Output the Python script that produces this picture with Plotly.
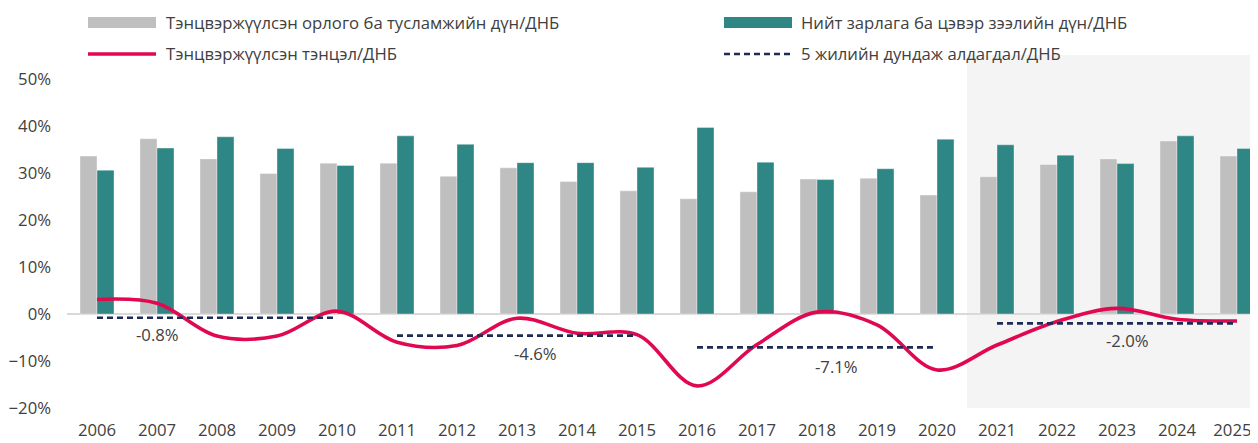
import plotly.graph_objects as go

years = ["2006", "2007", "2008", "2009", "2010", "2011", "2012", "2013", "2014", "2015",
         "2016", "2017", "2018", "2019", "2020", "2021", "2022", "2023", "2024", "2025*"]
revenue = [33.6, 37.3, 33.0, 29.9, 32.1, 32.1, 29.3, 31.1, 28.2, 26.2,
           24.5, 26.0, 28.7, 28.9, 25.3, 29.2, 31.8, 33.0, 36.8, 33.6]
expenditure = [30.6, 35.3, 37.7, 35.2, 31.6, 37.9, 36.1, 32.2, 32.2, 31.2,
               39.7, 32.3, 28.6, 30.9, 37.2, 36.0, 33.8, 32.0, 37.9, 35.2]
balance = [3.1, 2.3, -4.7, -4.7, 0.6, -6.0, -6.7, -0.9, -4.1, -4.4,
           -15.3, -6.5, 0.4, -2.3, -11.9, -6.6, -1.6, 1.2, -1.1, -1.5]
avg_x = ["2006", "2010", None, "2011", "2015", None, "2016", "2020", None, "2021", "2025*"]
avg_y = [-0.8, -0.8, None, -4.6, -4.6, None, -7.1, -7.1, None, -2.0, -2.0]
avg_labels = ["-0.8%", "-4.6%", "-7.1%", "-2.0%"]
avg_label_x = [1.0, 7.3, 12.33, 17.18]
avg_label_y = [-4.3, -8.3, -11.1, -5.7]

legend_names = ["Тэнцвэржүүлсэн орлого ба тусламжийн дүн/ДНБ",
                "Нийт зарлага ба цэвэр зээлийн дүн/ДНБ",
                "Тэнцвэржүүлсэн тэнцэл/ДНБ",
                "5 жилийн дундаж алдагдал/ДНБ"]

GRAY = "#bfbfbf"
TEAL = "#2e8784"
RED = "#e0094f"
NAVY = "#1f2b57"
TXT = "#404040"
FONT = "Open Sans"
FS = 16.7

# page has an 8px body margin: figure is placed at (8, 8) in the window
OFF = 8
W, H = 1258 - OFF, 443 - OFF
L, R, T, B = 67 - OFF, 0, 79 - OFF, 35
pw, ph = W - L - R, H - T - B


def px(xp):
    return (xp - OFF - L) / pw


def py(yp):
    return (H - B - (yp - OFF)) / ph


fig = go.Figure()
fig.add_trace(go.Bar(x=years, y=revenue, name=legend_names[0], marker_color=GRAY,
                     marker_line=dict(color="rgba(255,255,255,0.6)", width=0.6)))
fig.add_trace(go.Bar(x=years, y=expenditure, name=legend_names[1], marker_color=TEAL,
                     marker_line=dict(color="rgba(255,255,255,0.6)", width=0.6)))
fig.add_trace(go.Scatter(x=years, y=balance, name=legend_names[2], mode="lines",
                         line=dict(color=RED, width=3.6, shape="spline", smoothing=1.0)))
fig.add_trace(go.Scatter(x=avg_x, y=avg_y, name=legend_names[3], mode="lines",
                         line=dict(color=NAVY, width=2.6, dash="6px,4px"), connectgaps=False))

for t, xv, yv in zip(avg_labels, avg_label_x, avg_label_y):
    fig.add_annotation(x=xv, y=yv, text=t, showarrow=False, xref="x", yref="y",
                       font=dict(family=FONT, size=FS, color=TXT))

# shaded forecast region
fig.add_shape(type="rect", xref="paper", yref="paper", x0=px(967), x1=1.0, y0=0, y1=py(55),
              fillcolor="#f4f4f4", line_width=0, layer="below")

# custom legend
fig.add_shape(type="rect", xref="paper", yref="paper", x0=px(88), x1=px(156), y0=py(28), y1=py(17),
              fillcolor=GRAY, line_width=0)
fig.add_shape(type="rect", xref="paper", yref="paper", x0=px(724), x1=px(792), y0=py(28), y1=py(17),
              fillcolor=TEAL, line_width=0)
fig.add_shape(type="line", xref="paper", yref="paper", x0=px(88), x1=px(156), y0=py(54), y1=py(54),
              line=dict(color=RED, width=3.6))
fig.add_shape(type="line", xref="paper", yref="paper", x0=px(724), x1=px(792), y0=py(54), y1=py(54),
              line=dict(color=NAVY, width=2.6, dash="6px,4px"))
for name, xp, yp in [(legend_names[0], 164, 23), (legend_names[1], 799, 23),
                     (legend_names[2], 164, 54), (legend_names[3], 799, 54)]:
    fig.add_annotation(xref="paper", yref="paper", x=px(xp), y=py(yp), text=name,
                       showarrow=False, xanchor="left", yanchor="middle",
                       font=dict(family=FONT, size=FS, color=TXT))

fig.update_layout(
    width=W, height=H,
    margin=dict(l=L, r=R, t=T, b=B, pad=0, autoexpand=False),
    paper_bgcolor="white", plot_bgcolor="rgba(0,0,0,0)",
    barmode="group", bargap=0.433, bargroupgap=0,
    showlegend=False,
    font=dict(family=FONT, size=FS, color=TXT),
)
fig.update_xaxes(type="category", range=[-0.5, 19.35], showgrid=False, showline=False,
                 automargin=False,
                 ticks="", ticklabelstandoff=10, tickfont=dict(family=FONT, size=FS, color=TXT))
fig.update_yaxes(range=[-20, 50], dtick=10, ticksuffix="%", showgrid=False, showline=False,
                 automargin=False,
                 zeroline=True, zerolinecolor="#d9d9d9", zerolinewidth=2,
                 ticks="", ticklabelstandoff=15, tickfont=dict(family=FONT, size=FS, color=TXT))

fig.write_html("out.html")
